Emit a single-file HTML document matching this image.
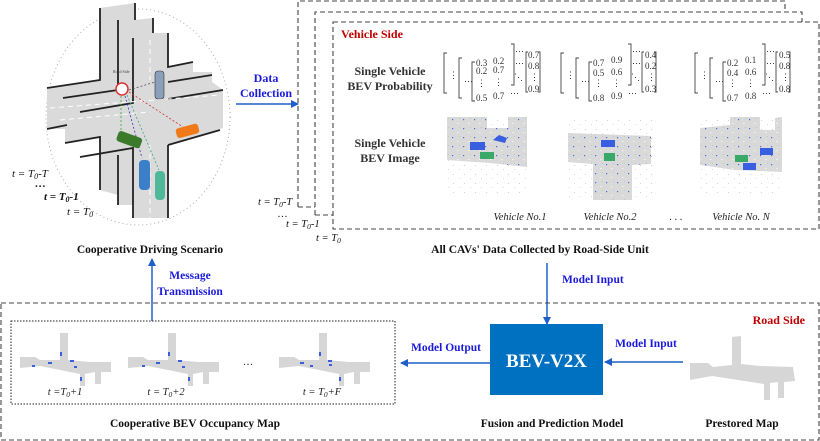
<!DOCTYPE html>
<html><head><meta charset="utf-8"><style>
html,body{margin:0;padding:0;background:#fff}
svg{display:block}
text{font-family:"Liberation Serif",serif}
.b{font-weight:bold}
.blue{fill:#1a1adc}
.lab{fill:#333;font-weight:bold;font-size:12px}
.m{font-size:9px;fill:#333;font-family:"Liberation Sans",sans-serif}
</style></head><body>
<svg width="820" height="441" viewBox="0 0 820 441" xmlns="http://www.w3.org/2000/svg">
<defs>
<pattern id="dots" width="11" height="9" patternUnits="userSpaceOnUse">
<rect width="11" height="9" fill="#d9d9d9"/>
<rect x="1" y="2" width="1.2" height="1.2" fill="#4a6ae0"/>
<rect x="6" y="6" width="1.5" height="1" fill="#f2f2f2"/>
<rect x="8" y="1" width="1" height="1" fill="#c4c4c4"/>
</pattern>
<pattern id="sp" width="11" height="9" patternUnits="userSpaceOnUse">
<rect x="2" y="3" width="1" height="1" fill="#d0d0d0"/>
<rect x="8" y="7" width="1" height="1" fill="#dcdcdc"/>
</pattern>
<marker id="ah" markerWidth="8" markerHeight="8" refX="7" refY="4" orient="auto" markerUnits="userSpaceOnUse"><path d="M0,0 L8,4 L0,8 z" fill="#1f5fc8"/></marker>
</defs>

<!-- Scenario -->
<ellipse cx="138" cy="117" rx="92" ry="108" fill="none" stroke="#aaa" stroke-dasharray="1,3"/>
<polygon fill="#dadada" points="100,8 135,3 135,20 153,18 153,33 168,33 168,67 193,62 193,72 212,72 212,82 223,90 223,128 168,145 168,218 133,218 133,205 118,205 118,195 100,190 100,137 65,143 65,129 47,129 47,88 100,80"/>
<g stroke="#222" stroke-width="1.8" fill="none">
<path d="M100,8 V80 L47,88"/><path d="M135,3 V20"/><path d="M118,20 V90 L63,98"/><path d="M133,38 V103 L80,112"/>
<path d="M168,33 V67 L193,62"/><path d="M168,82 L212,75"/><path d="M168,99 L223,90"/>
<path d="M47,129 L67,125"/><path d="M65,143 L100,137 V190"/><path d="M80,157 L133,148 V218"/>
<path d="M118,155 V205"/><path d="M168,145 L220,130"/><path d="M168,145 V218"/><path d="M153,18 V33"/>
</g>
<g stroke="#fff" stroke-width="1" stroke-dasharray="5,4" fill="none"><path d="M50,108 L220,95"/><path d="M60,120 L150,112"/><path d="M150,145 V218"/><path d="M150,40 V80"/></g>
<circle cx="122" cy="89" r="6" fill="#fff" stroke="#d33" stroke-width="1.5"/>
<text x="113" y="73" font-size="4" fill="#444">Road Side</text>
<g stroke-width="0.8" stroke-dasharray="2,2" fill="none">
<line x1="129" y1="90" x2="155" y2="82" stroke="#555"/><line x1="129" y1="92" x2="183" y2="127" stroke="#c33"/>
<line x1="125" y1="96" x2="142" y2="158" stroke="#33c"/><line x1="127" y1="95" x2="159" y2="170" stroke="#3a8"/><line x1="121" y1="96" x2="121" y2="130" stroke="#3a3"/>
</g>
<rect x="155" y="71" width="9" height="28" rx="3" fill="#8aa0b8" stroke="#333" stroke-width="0.6"/>
<rect x="176" y="126" width="23" height="10" rx="3" fill="#f07a1a" transform="rotate(-15 187 131)"/>
<rect x="117" y="134" width="25" height="11" rx="3" fill="#3a7a2a" transform="rotate(20 129 139)"/>
<rect x="139" y="160" width="11" height="30" rx="4" fill="#3a7fc8"/>
<rect x="155" y="171" width="10" height="29" rx="4" fill="#4fb89a"/>
<g font-style="italic" font-size="11" fill="#111">
<text x="12" y="177">t = T<tspan font-size="8" dy="2">0</tspan><tspan dy="-2">-T</tspan></text>
<text x="35" y="187" class="b">…</text>
<text x="44" y="200" class="b">t = T<tspan font-size="8" dy="2">0</tspan><tspan dy="-2">-1</tspan></text>
<text x="67" y="215">t = T<tspan font-size="8" dy="2">0</tspan></text>
</g>
<text x="150" y="253" text-anchor="middle" class="b" font-size="11.5" fill="#111">Cooperative Driving Scenario</text>

<!-- Data collection -->
<text x="266" y="82" text-anchor="middle" class="b blue" font-size="12">Data</text>
<text x="266" y="97" text-anchor="middle" class="b blue" font-size="12">Collection</text>
<line x1="236" y1="104" x2="298" y2="104" stroke="#1f5fc8" stroke-width="1.5" marker-end="url(#ah)"/>

<!-- stacked boxes -->
<g fill="none" stroke="#444" stroke-width="1.1" stroke-dasharray="5,3">
<path d="M298,207 V1 H785 V10"/>
<path d="M298,207 H315"/>
<path d="M315,215 V12 H802 V22"/>
<path d="M315,215 H333"/>
<rect x="333" y="22" width="486" height="207"/>
</g>
<g font-style="italic" font-size="10.5" fill="#111">
<text x="258" y="205">t = T<tspan font-size="7.5" dy="2">0</tspan><tspan dy="-2">-T</tspan></text>
<text x="278" y="217">…</text>
<text x="286" y="227">t = T<tspan font-size="7.5" dy="2">0</tspan><tspan dy="-2">-1</tspan></text>
<text x="316" y="241">t = T<tspan font-size="7.5" dy="2">0</tspan></text>
</g>
<text x="341" y="38" class="b" font-size="12" fill="#c00000">Vehicle Side</text>
<text x="390" y="75" text-anchor="middle" class="lab">Single Vehicle</text>
<text x="390" y="90" text-anchor="middle" class="lab">BEV Probability</text>
<text x="390" y="147" text-anchor="middle" class="lab">Single Vehicle</text>
<text x="390" y="162" text-anchor="middle" class="lab">BEV Image</text>

<!-- matrices -->
<g stroke="#444" stroke-width="0.9" fill="none">
<path d="M447,53 h-3 v40 h3"/><path d="M462,58 h-3 v40 h3"/><path d="M475,62 h-3 v39 h3"/><path d="M511,44 h3 v41 h-3"/><path d="M528,52 h-2 v40 h2 M538,52 h2 v40 h-2"/>
<path d="M564,53 h-3 v40 h3"/><path d="M579,58 h-3 v40 h3"/><path d="M592,62 h-3 v39 h3"/><path d="M628,44 h3 v41 h-3"/><path d="M644,52 h-2 v40 h2 M654,52 h2 v40 h-2"/>
<path d="M698,53 h-3 v40 h3"/><path d="M713,58 h-3 v40 h3"/><path d="M726,62 h-3 v39 h3"/><path d="M762,44 h3 v41 h-3"/><path d="M778,52 h-2 v40 h2 M788,52 h2 v40 h-2"/>
</g>
<g class="m">
<text x="449" y="78">⋮</text><text x="464" y="84">⋯</text>
<text x="476" y="66">0.3</text><text x="476" y="74">0.2</text><text x="477" y="86">⋮</text><text x="476" y="101">0.5</text>
<text x="493" y="64">0.2</text><text x="493" y="73">0.7</text><text x="494" y="85">⋮</text><text x="493" y="99">0.7</text>
<text x="515" y="54">⋯</text><text x="515" y="66">⋯</text><text x="514" y="80">⋱</text><text x="510" y="96">⋯</text>
<text x="528" y="58">0.7</text><text x="528" y="69">0.8</text><text x="530" y="80">⋮</text><text x="528" y="92">0.9</text>

<text x="566" y="78">⋮</text><text x="581" y="84">⋯</text>
<text x="593" y="66">0.7</text><text x="593" y="76">0.5</text><text x="594" y="86">⋮</text><text x="593" y="101">0.8</text>
<text x="611" y="63">0.9</text><text x="611" y="75">0.6</text><text x="612" y="86">⋮</text><text x="611" y="99">0.9</text>
<text x="632" y="54">⋯</text><text x="632" y="66">⋯</text><text x="631" y="80">⋱</text><text x="628" y="96">⋯</text>
<text x="645" y="58">0.4</text><text x="645" y="69">0.2</text><text x="647" y="80">⋮</text><text x="645" y="92">0.3</text>

<text x="700" y="78">⋮</text><text x="715" y="84">⋯</text>
<text x="727" y="66">0.2</text><text x="727" y="76">0.4</text><text x="728" y="86">⋮</text><text x="727" y="101">0.7</text>
<text x="745" y="63">0.1</text><text x="745" y="75">0.6</text><text x="746" y="86">⋮</text><text x="745" y="99">0.8</text>
<text x="766" y="54">⋯</text><text x="766" y="66">⋯</text><text x="765" y="80">⋱</text><text x="762" y="96">⋯</text>
<text x="779" y="58">0.5</text><text x="779" y="69">0.8</text><text x="781" y="80">⋮</text><text x="779" y="92">0.8</text>
</g>

<!-- BEV images -->
<rect x="446" y="116" width="82" height="80" fill="url(#sp)"/>
<polygon points="447,117 487,117 487,128 508,128 508,117 527,117 527,167 490,163 447,160" fill="url(#dots)"/>
<rect x="470" y="142" width="15" height="8" fill="#3a5ee0"/><path d="M493,140 l6,-5 l8,3 l-2,5 z" fill="#3a5ee0"/>
<rect x="480" y="152" width="14" height="7" fill="#3aa866"/>
<rect x="568" y="116" width="84" height="84" fill="url(#sp)"/>
<polygon points="568,133 651,136 651,164 632,165 632,200 593,200 593,164 568,162" fill="url(#dots)"/>
<rect x="601" y="140" width="14" height="7" fill="#3a5ee0"/><rect x="604" y="153" width="11" height="8" fill="#3aa866"/>
<rect x="700" y="116" width="83" height="80" fill="url(#sp)"/>
<polygon points="700,128 730,125 730,117 760,117 760,130 775,130 775,118 782,117 782,172 735,170 700,165" fill="url(#dots)"/>
<rect x="760" y="148" width="13" height="7" fill="#3a5ee0"/><rect x="735" y="155" width="13" height="7" fill="#3aa866"/><rect x="743" y="163" width="13" height="7" fill="#3a5ee0"/>
<g font-style="italic" font-size="10.5" fill="#222" text-anchor="middle">
<text x="520" y="220">Vehicle No.1</text><text x="610" y="220">Vehicle No.2</text><text x="676" y="220">. . .</text><text x="741" y="220">Vehicle No. N</text>
</g>
<text x="540" y="253" text-anchor="middle" class="b" font-size="11.5" fill="#111">All CAVs' Data Collected by Road-Side Unit</text>

<!-- arrows middle -->
<line x1="152" y1="321" x2="152" y2="259" stroke="#1f5fc8" stroke-width="1.5" marker-end="url(#ah)"/>
<text x="190" y="279" text-anchor="middle" class="b blue" font-size="11.5">Message</text>
<text x="190" y="295" text-anchor="middle" class="b blue" font-size="11.5">Transmission</text>
<line x1="547" y1="263" x2="547" y2="324" stroke="#1f5fc8" stroke-width="1.5" marker-end="url(#ah)"/>
<text x="562" y="283" class="b blue" font-size="11.5">Model Input</text>

<!-- road side -->
<rect x="1" y="303" width="818" height="137" fill="none" stroke="#444" stroke-width="1.1" stroke-dasharray="5,3"/>
<text x="805" y="324" text-anchor="end" class="b" font-size="12" fill="#c00000">Road Side</text>
<rect x="11" y="321" width="384" height="83" fill="none" stroke="#222" stroke-width="1" stroke-dasharray="1.5,1.5"/>
<g fill="#d6d6d6">
<path d="M20,357 L35,357 L40,360 L60,360 L60,333 L68,333 L68,360 L90,362 L111,362 L111,372 L101,372 L101,384 L95,384 L95,372 L85,374 L85,386 L80,386 L80,374 L40,366 L20,368 z"/>
<path d="M20,357 L35,357 L40,360 L60,360 L60,333 L68,333 L68,360 L90,362 L111,362 L111,372 L101,372 L101,384 L95,384 L95,372 L85,374 L85,386 L80,386 L80,374 L40,366 L20,368 z" transform="translate(108,0)"/>
<path d="M20,357 L35,357 L40,360 L60,360 L60,333 L68,333 L68,360 L90,362 L111,362 L111,372 L101,372 L101,384 L95,384 L95,372 L85,374 L85,386 L80,386 L80,374 L40,366 L20,368 z" transform="translate(259,0)"/>
</g>
<g fill="#3a5ee0">
<rect x="60" y="352" width="2" height="4"/><rect x="48" y="362" width="4" height="2"/><rect x="32" y="365" width="3" height="2"/><rect x="70" y="360" width="4" height="2"/><rect x="74" y="366" width="3" height="2"/><rect x="80" y="377" width="2" height="4"/>
<rect x="168" y="352" width="2" height="4"/><rect x="156" y="362" width="4" height="2"/><rect x="142" y="365" width="3" height="2"/><rect x="178" y="360" width="4" height="2"/><rect x="182" y="366" width="3" height="2"/><rect x="188" y="377" width="2" height="4"/>
<rect x="319" y="352" width="2" height="4"/><rect x="300" y="362" width="4" height="2"/><rect x="310" y="365" width="3" height="2"/><rect x="328" y="360" width="4" height="2"/><rect x="329" y="364" width="3" height="2"/><rect x="339" y="377" width="2" height="4"/>
</g>
<g font-style="italic" font-size="10.5" fill="#222" text-anchor="middle">
<text x="65" y="395">t =T<tspan font-size="7.5" dy="2">0</tspan><tspan dy="-2">+1</tspan></text>
<text x="166" y="395">t = T<tspan font-size="7.5" dy="2">0</tspan><tspan dy="-2">+2</tspan></text>
<text x="248" y="365" font-style="normal">…</text>
<text x="322" y="395">t = T<tspan font-size="7.5" dy="2">0</tspan><tspan dy="-2">+F</tspan></text>
</g>
<text x="195" y="427" text-anchor="middle" class="b" font-size="11.5" fill="#111">Cooperative BEV Occupancy Map</text>

<rect x="490" y="324" width="113" height="71" fill="#0070c0"/>
<text x="546.5" y="367" text-anchor="middle" class="b" font-size="19" fill="#fff">BEV-V2X</text>
<line x1="490" y1="363" x2="401" y2="363" stroke="#1f5fc8" stroke-width="1.5" marker-end="url(#ah)"/>
<text x="446" y="351" text-anchor="middle" class="b blue" font-size="11.5">Model Output</text>
<line x1="683" y1="362" x2="605" y2="362" stroke="#1f5fc8" stroke-width="1.5" marker-end="url(#ah)"/>
<text x="646" y="347" text-anchor="middle" class="b blue" font-size="11.5">Model Input</text>
<path d="M690,363 L708,363 L713,367 L732,365 L732,337 L741,336 L741,364 L760,366 L793,367 L795,381 L784,382 L784,398 L778,398 L778,382 L770,383 L770,400 L764,400 L764,384 L712,376 L690,380 z" fill="#d6d6d6"/>
<text x="552" y="427" text-anchor="middle" class="b" font-size="11.5" fill="#111">Fusion and Prediction Model</text>
<text x="742" y="427" text-anchor="middle" class="b" font-size="11.5" fill="#111">Prestored Map</text>
</svg>
</body></html>
